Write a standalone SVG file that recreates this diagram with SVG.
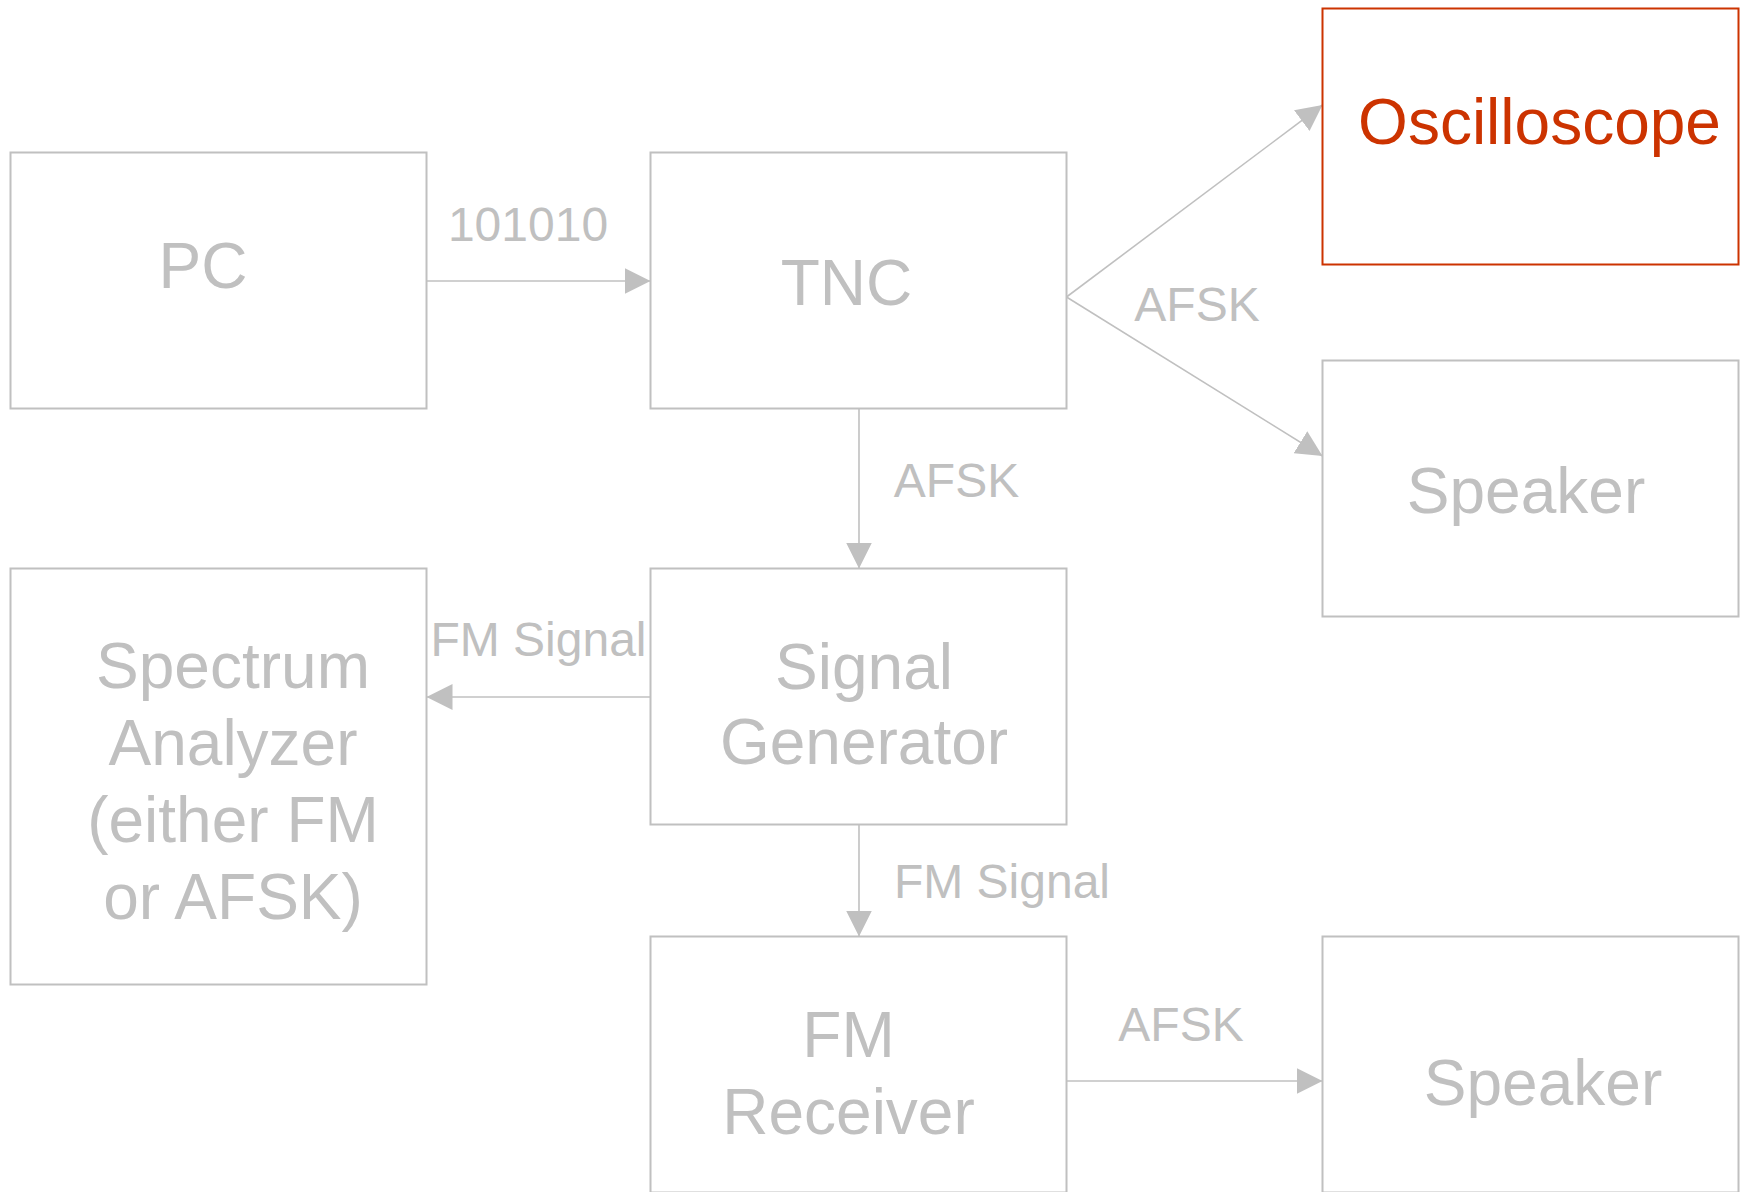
<svg xmlns="http://www.w3.org/2000/svg" width="1744" height="1192" viewBox="0 0 1744 1192">
  <style>
    .box { fill: #ffffff; stroke: #c0c0c0; stroke-width: 2; }
    .box.hot { stroke: #cc3300; }
    .name { font-family: "Liberation Sans", Arial, sans-serif; font-size: 64px; fill: #c0c0c0; text-anchor: middle; }
    .name.hot { fill: #cc3300; }
    .wire { fill: none; stroke: #c0c0c0; stroke-width: 1.6; marker-end: url(#head); }
    .tag { font-family: "Liberation Sans", Arial, sans-serif; font-size: 48px; fill: #c0c0c0; text-anchor: middle; }
  </style>
  <defs>
    <marker id="head" markerUnits="userSpaceOnUse" markerWidth="26" markerHeight="26" refX="26" refY="13" orient="auto">
      <path d="M0,0 L26,13 L0,26 z" fill="#c0c0c0"/>
    </marker>
  </defs>
  <rect width="1744" height="1192" fill="#ffffff"/>

  <g id="connectors">
    <line class="wire" x1="426.5" y1="281" x2="650.5" y2="281"/>
    <line class="wire" x1="1066.5" y1="297" x2="1322.5" y2="105"/>
    <line class="wire" x1="1066.5" y1="297" x2="1322.5" y2="456"/>
    <line class="wire" x1="859" y1="408.5" x2="859" y2="568.5"/>
    <line class="wire" x1="650.5" y1="697" x2="426.5" y2="697"/>
    <line class="wire" x1="859" y1="824.5" x2="859" y2="936.5"/>
    <line class="wire" x1="1066.5" y1="1081" x2="1322.5" y2="1081"/>
    <text class="tag" x="528" y="241">101010</text>
    <text class="tag" x="1197" y="321">AFSK</text>
    <text class="tag" x="956.5" y="496.5">AFSK</text>
    <text class="tag" x="538.5" y="655.5">FM Signal</text>
    <text class="tag" x="1002" y="897.5">FM Signal</text>
    <text class="tag" x="1181" y="1040.5">AFSK</text>
  </g>

  <g id="pc">
    <rect class="box" x="10.5" y="152.5" width="416" height="256"/>
    <text class="name" x="203" y="288">PC</text>
  </g>

  <g id="tnc">
    <rect class="box" x="650.5" y="152.5" width="416" height="256"/>
    <text class="name" x="846.5" y="304.5">TNC</text>
  </g>

  <g id="oscilloscope">
    <rect class="box hot" x="1322.5" y="8.5" width="416" height="256"/>
    <text class="name hot" x="1539.5" y="144">Oscilloscope</text>
  </g>

  <g id="speaker-top">
    <rect class="box" x="1322.5" y="360.5" width="416" height="256"/>
    <text class="name" x="1526" y="513">Speaker</text>
  </g>

  <g id="signal-generator">
    <rect class="box" x="650.5" y="568.5" width="416" height="256"/>
    <text class="name" x="864" y="689">Signal</text>
    <text class="name" x="864" y="764">Generator</text>
  </g>

  <g id="spectrum-analyzer">
    <rect class="box" x="10.5" y="568.5" width="416" height="416"/>
    <text class="name" x="233" y="688">Spectrum</text>
    <text class="name" x="233" y="765">Analyzer</text>
    <text class="name" x="233" y="842">(either FM</text>
    <text class="name" x="233" y="918.5">or AFSK)</text>
  </g>

  <g id="fm-receiver">
    <rect class="box" x="650.5" y="936.5" width="416" height="256"/>
    <text class="name" x="848.5" y="1056.5">FM</text>
    <text class="name" x="848.5" y="1133.5">Receiver</text>
  </g>

  <g id="speaker-bottom">
    <rect class="box" x="1322.5" y="936.5" width="416" height="256"/>
    <text class="name" x="1543" y="1105">Speaker</text>
  </g>
</svg>
